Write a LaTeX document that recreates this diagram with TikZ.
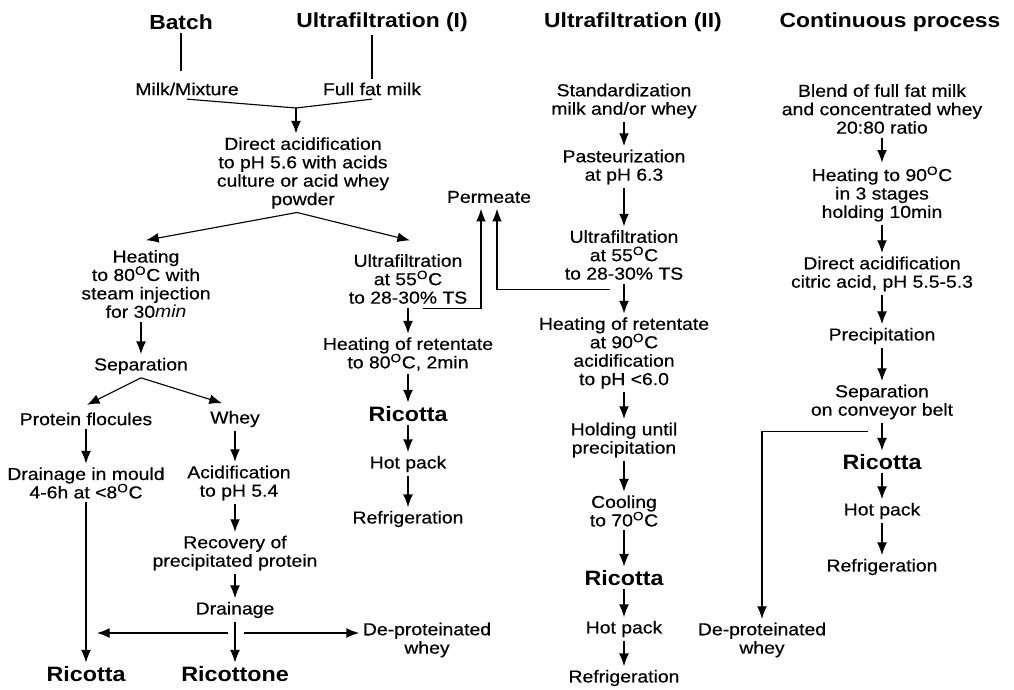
\documentclass[tikz,border=0pt]{standalone}
\usepackage{fontspec}
\setmainfont[FakeStretch=1.12, UprightFeatures={FakeBold=0.5}]{Liberation Sans}
\usepackage{tikz}
\usetikzlibrary{arrows.meta,positioning,calc}
\newcommand{\degO}{\textsuperscript{O}}

\begin{document}
\begin{tikzpicture}[x=0.025cm, y=-0.025cm]
  \tikzstyle{proc} = [align=center, inner sep=2.5pt, font=\fontsize{12.3}{13.1}\selectfont]
  \tikzstyle{prod} = [align=center, inner sep=2.5pt, font=\fontsize{14.8}{16}\selectfont\bfseries]
  \tikzstyle{colhead} = [align=center, inner sep=2.5pt, font=\fontsize{14.5}{16}\selectfont\bfseries]
  \tikzstyle{line} = [draw, -{Latex[length=9pt,width=7pt]}, line width=0.8pt]
  \tikzstyle{plain} = [draw, line width=0.8pt]

  \useasboundingbox (0,0) rectangle (1014,690);

  \node [colhead] (batch) at (181,22) {Batch};
  \node [colhead] (ufone) at (382,22) {Ultrafiltration (I)};
  \node [colhead] (uftwo) at (633,22) {Ultrafiltration (II)};
  \node [colhead] (cont) at (890,22) {Continuous process};

  % batch / ultrafiltration (I)
  \node [proc] (mix) at (187,89) {Milk/Mixture};
  \node [proc] (fullfat) at (372,89) {Full fat milk};
  \node [proc] (direct) at (303,173) {Direct acidification\\to pH 5.6 with acids\\culture or acid whey\\powder};
  \node [proc] (heatA) at (146,284) {Heating\\to 80\degO C with\\steam injection\\for 30\textit{min}};
  \node [proc] (sepA) at (141,366) {Separation};
  \node [proc] (floc) at (86,419) {Protein flocules};
  \node [proc] (wheyA) at (235,419) {Whey};
  \node [proc] (drainA) at (86,483) {Drainage in mould\\4-6h at <8\degO C};
  \node [proc] (acidA) at (239,483) {Acidification\\to pH 5.4};
  \node [proc] (recov) at (235,553) {Recovery of\\precipitated protein};
  \node [proc] (drainB) at (235,610) {Drainage};
  \node [prod] (ricA) at (86,674) {Ricotta};
  \node [prod] (ricnone) at (235,674) {Ricottone};
  \node [proc] (dpwA) at (427,640) {De-proteinated\\whey};

  \node [proc] (ufA) at (408,279) {Ultrafiltration\\at 55\degO C\\to 28-30\% TS};
  \node [proc] (perm) at (489,197) {Permeate};
  \node [proc] (heatret) at (408,354) {Heating of retentate\\to 80\degO C, 2min};
  \node [prod] (ricB) at (408,414) {Ricotta};
  \node [proc] (hotB) at (408,464) {Hot pack};
  \node [proc] (refB) at (408,519) {Refrigeration};

  % ultrafiltration (II)
  \node [proc] (std) at (624,101) {Standardization\\milk and/or whey};
  \node [proc] (past) at (624,167) {Pasteurization\\at pH 6.3};
  \node [proc] (ufB) at (624,255) {Ultrafiltration\\at 55\degO C\\to 28-30\% TS};
  \node [proc] (heatC) at (624,353) {Heating of retentate\\at 90\degO C\\acidification\\to pH <6.0};
  \node [proc] (hold) at (624,440) {Holding until\\precipitation};
  \node [proc] (cool) at (624,511) {Cooling\\to 70\degO C};
  \node [prod] (ricC) at (624,578) {Ricotta};
  \node [proc] (hotC) at (624,629) {Hot pack};
  \node [proc] (refC) at (624,678) {Refrigeration};

  % continuous process
  \node [proc] (blend) at (882,109) {Blend of full fat milk\\and concentrated whey\\20:80 ratio};
  \node [proc] (heatD) at (882,194) {Heating to 90\degO C\\in 3 stages\\holding 10min};
  \node [proc] (dacid) at (882,274) {Direct acidification\\citric acid, pH 5.5-5.3};
  \node [proc] (precip) at (882,336) {Precipitation};
  \node [proc] (sepbelt) at (882,402) {Separation\\on conveyor belt};
  \node [prod] (ricD) at (882,462) {Ricotta};
  \node [proc] (hotD) at (882,511) {Hot pack};
  \node [proc] (refD) at (882,567) {Refrigeration};
  \node [proc] (dpwB) at (762,640) {De-proteinated\\whey};

  % batch connectors
  \path [plain] (batch.south) -- ($(batch.south |- mix.north)+(0,-8)$);
  \path [plain] (fullfat.north |- ufone.south) -- (fullfat.north);
  \coordinate (join) at (296,108);
  \path [plain] (mix.south) -- (join);
  \path [plain] (fullfat.south) -- (join);
  \path [line] (join) -- (join |- direct.north);
  \path [line] ($(direct.south)+(-6,0)$) -- ($(heatA.north)+(0,-6)$);
  \path [line] ($(direct.south)+(-6,0)$) -- ($(ufA.north)+(2,-10)$);
  \path [line] (heatA.south -| sepA) -- (sepA);
  \path [line] (sepA.south) -- ($(floc.north)+(1,-4)$);
  \path [line] (sepA.south) -- ($(wheyA.north)+(-13,-4)$);
  \path [line] (floc) -- (drainA);
  \path [line] (wheyA) -- (wheyA |- acidA.north);
  \path [line] (acidA.south -| recov) -- (recov);
  \path [line] (recov) -- (drainB);
  \path [line] (drainB) -- (ricnone);
  \path [line] (drainA) -- (ricA);
  \coordinate (hub) at (235,633);
  \path [line] ($(hub)+(-7,0)$) -- ($(hub -| ricA)+(11,0)$);
  \path [line] ($(hub)+(9,0)$) -- (hub -| dpwA.west);

  % ultrafiltration (I) connectors
  \path [line] (ufA) -- (heatret);
  \path [line] (heatret) -- (ricB);
  \path [line] (ricB) -- (hotB);
  \path [line] (hotB) -- (refB);
  \path [line] ($(ufA.south)+(15,1)$) -| ($(perm.south)+(-8,2)$);

  % ultrafiltration (II) connectors
  \path [line] (std) -- (past);
  \path [line] (past) -- (ufB);
  \path [line] (ufB) -- (heatC);
  \path [line] (heatC) -- (hold);
  \path [line] (hold) -- (cool);
  \path [line] (cool) -- (ricC);
  \path [line] (ricC) -- (hotC);
  \path [line] (hotC) -- (refC);
  \path [line] ($(ufB.south)+(-14,6)$) -| ($(perm.south)+(8,2)$);

  % continuous process connectors
  \path [line] (blend) -- (heatD);
  \path [line] (heatD) -- (dacid);
  \path [line] (dacid) -- (precip);
  \path [line] (precip) -- (sepbelt);
  \path [line] (sepbelt) -- (ricD);
  \path [line] (ricD) -- (hotD);
  \path [line] (hotD) -- (refD);
  \path [line] ($(sepbelt.south)+(-14,8)$) -| (dpwB.north);
\end{tikzpicture}
\end{document}
